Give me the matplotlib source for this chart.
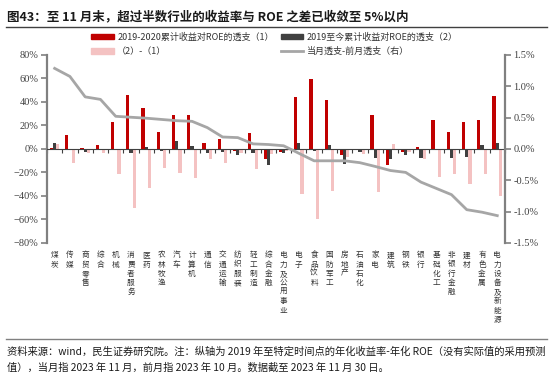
import matplotlib
matplotlib.use("Agg")
import matplotlib.pyplot as plt
from matplotlib.patches import Patch
from matplotlib.lines import Line2D
from matplotlib.ticker import FixedLocator, PercentFormatter
import matplotlib.transforms as mtransforms
import numpy as np

plt.rcParams['font.family'] = ['Noto Sans CJK SC', 'DejaVu Sans']

categories = ["煤炭", "传媒", "商贸零售", "综合", "机械", "消费者服务", "医药", "农林牧渔",
              "汽车", "计算机", "通信", "交通运输", "纺织服装", "轻工制造", "综合金融",
              "电力及公用事业", "电子", "食品饮料", "国防军工", "房地产", "石油石化", "家电",
              "建筑", "钢铁", "银行", "基础化工", "非银行金融", "建材", "有色金属", "电力设备及新能源"]

overdraft_2019_2020 = [0.6, 11.7, 0.9, 3.1, 22.6, 46.2, 35.2, 14.0, 28.6, 28.6, 4.9, 8.3, -1.4, 13.4, -8.6,
                       -2.3, 44.3, 59.2, 41.2, -5.4, 0.3, 29.2, -13.4, -2.3, 1.4, 24.9, 14.0, 23.0, 24.9, 44.9]
overdraft_2019_now = [4.9, 0.3, -2.9, -0.5, 0.3, -3.7, 1.4, -1.7, 6.9, 2.6, -3.1, -2.9, -5.1, -3.7, -13.7,
                      -3.7, 4.6, -1.7, 3.7, -12.6, -2.6, -7.7, -9.0, -4.9, -7.4, 0.3, -7.4, -6.6, 3.7, 4.6]
diff_2_minus_1 = [4.0, -11.7, -3.7, -3.7, -21.7, -50.4, -33.0, -16.0, -20.9, -25.0, -8.9, -11.7, -3.1, -17.4, -4.6,
                  -1.4, -38.8, -60.0, -36.0, -6.9, -4.0, -36.3, 4.0, -2.3, -8.9, -23.7, -21.7, -30.0, -21.0, -40.0]
month_change = [1.285, 1.156, 0.83, 0.79, 0.52, 0.505, 0.49, 0.47, 0.45, 0.44, 0.34, 0.19, 0.18, 0.08, 0.07,
                0.05, -0.07, -0.19, -0.19, -0.19, -0.22, -0.28, -0.345, -0.375, -0.53, -0.63, -0.73, -0.97, -1.01, -1.065]

left_ticks = [-80, -60, -40, -20, 0, 20, 40, 60, 80]
right_ticks = [-1.5, -1.0, -0.5, 0.0, 0.5, 1.0, 1.5]

legend_labels = ["2019-2020累计收益对ROE的透支（1）", "2019至今累计收益对ROE的透支（2）",
                 "（2）-（1）", "当月透支-前月透支（右）"]

title = "图43：至 11 月末，超过半数行业的收益率与 ROE 之差已收敛至 5%以内"
source1 = "资料来源：wind，民生证券研究院。注：纵轴为 2019 年至特定时间点的年化收益率-年化 ROE（没有实际值的采用预测"
source2 = "值），当月指 2023 年 11 月，前月指 2023 年 10 月。数据截至 2023 年 11 月 30 日。"

RED = "#C00000"
DARK = "#404040"
PINK = "#F4C2C2"
LINEC = "#A6A6A6"
SPINE = "#808080"

fig = plt.figure(figsize=(5.5, 3.76), dpi=100)
ax = fig.add_axes([0.0855, 0.354, 0.8325, 0.500])

x = np.arange(len(categories))
w = 0.21
ax.bar(x - w, overdraft_2019_2020, width=w, color=RED, zorder=3)
ax.bar(x, overdraft_2019_now, width=w, color=DARK, zorder=3)
ax.bar(x + w, diff_2_minus_1, width=w, color=PINK, zorder=3)

ax.set_xlim(-0.5, len(categories) - 0.5)
ax.set_ylim(-80, 80)
ax.yaxis.set_major_locator(FixedLocator(left_ticks))
ax.yaxis.set_major_formatter(PercentFormatter(decimals=0))
for s in ["top", "right"]:
    ax.spines[s].set_visible(False)
ax.spines["left"].set_color(SPINE)
ax.spines["left"].set_linewidth(1.6)
ax.spines["bottom"].set_position(("data", 0))
ax.spines["bottom"].set_color("#404040")
ax.spines["bottom"].set_linewidth(0.8)
ax.spines["bottom"].set_zorder(4)
ax.set_xticks(np.arange(len(categories) + 1) - 0.5)
ax.set_xticklabels([])
ax.tick_params(axis="x", direction="out", length=3, width=0.8, color="#404040")
ax.tick_params(axis="y", direction="out", length=4, width=1.2, color=SPINE,
               labelsize=7.5, labelcolor="#404040", pad=2)
for lab in ax.get_yticklabels():
    lab.set_fontfamily("Liberation Serif")

trans = mtransforms.blended_transform_factory(ax.transData, ax.transAxes)
for i, c in enumerate(categories):
    ax.text(i, -0.045, "\n".join(c), transform=trans, ha="center", va="top",
            fontsize=5.5, linespacing=1.2, color="#333333")

ax2 = ax.twinx()
ax2.plot(x, month_change, color=LINEC, lw=2.0, zorder=5)
ax2.set_ylim(-1.5, 1.5)
ax2.yaxis.set_major_locator(FixedLocator(right_ticks))
ax2.set_yticklabels([f"{v:.1f}%" for v in right_ticks])
for s in ["top", "left", "bottom"]:
    ax2.spines[s].set_visible(False)
ax2.spines["right"].set_color(SPINE)
ax2.spines["right"].set_linewidth(1.6)
ax2.tick_params(axis="y", direction="out", length=4, width=1.2, color=SPINE,
                labelsize=7.5, labelcolor="#404040", pad=2)
for lab in ax2.get_yticklabels():
    lab.set_fontfamily("Liberation Serif")

handles = [Patch(color=RED), Patch(color=PINK), Patch(color=DARK),
           Line2D([0], [0], color=LINEC, lw=2.0)]
labels = [legend_labels[0], legend_labels[2], legend_labels[1], legend_labels[3]]
fig.legend(handles, labels, ncol=2, loc="upper left", bbox_to_anchor=(0.158, 0.926),
           frameon=False, fontsize=6.5, handlelength=2.5, handleheight=0.55,
           columnspacing=0.8, handletextpad=0.35, labelspacing=0.6, borderpad=0,
           labelcolor="#333333")

fig.text(0.012, 0.972, title, fontsize=9.0, fontweight="bold", color="#1a1a1a", va="top", ha="left")
fig.add_artist(Line2D([0.01, 0.995], [0.928, 0.928], transform=fig.transFigure, color="#404040", lw=1.0))
fig.add_artist(Line2D([0.01, 0.995], [0.099, 0.099], transform=fig.transFigure, color="#808080", lw=1.0))
fig.text(0.012, 0.066, source1, fontsize=7.4, color="#1a1a1a", va="center", ha="left")
fig.text(0.012, 0.022, source2, fontsize=7.4, color="#1a1a1a", va="center", ha="left")

fig.savefig("out.png", dpi=100)
